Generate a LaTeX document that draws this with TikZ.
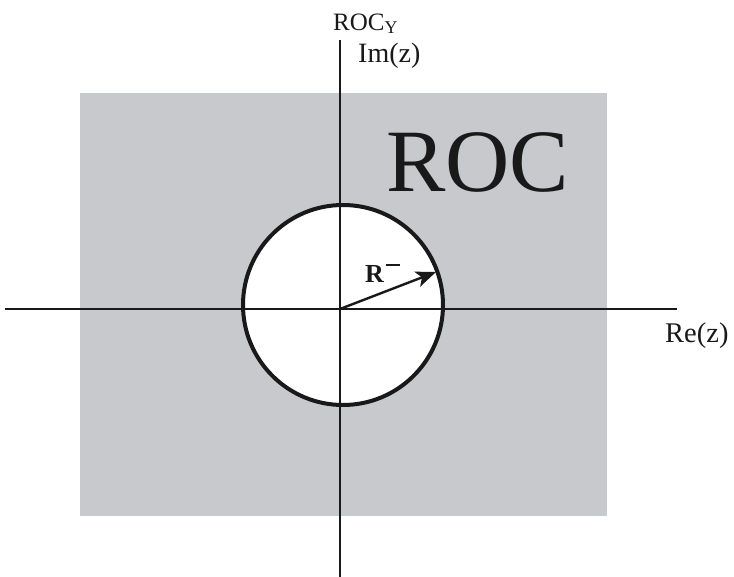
\documentclass[tikz,border=0pt]{standalone}
\usepackage{fontspec}
\setmainfont{Liberation Serif}
\usetikzlibrary{arrows.meta}
\definecolor{rocgray}{RGB}{200,201,204}
\tikzset{
  axisline/.style={line width=2.2pt, draw=black!90},
  rim/.style={line width=4pt, draw=black!90, fill=white},
  radius arrow/.style={line width=2.4pt, draw=black!90, -{Stealth[length=20pt,width=16pt,inset=5pt]}},
  lbl/.style={inner sep=0pt, anchor=base west, text=black!90}
}
\begin{document}
\begin{tikzpicture}[x=1pt,y=-1pt]
\useasboundingbox (0,0) rectangle (734,577);
% shaded region
\fill[rocgray] (80,93) rectangle (607,516);
% circle (hole)
\node[rim, circle, minimum size=200pt, inner sep=0pt] (c) at (343,305) {};
% axes
\coordinate (xl) at (5,309);
\coordinate (xr) at (677,309);
\coordinate (yt) at (340,40);
\coordinate (yb) at (340,577);
\coordinate (o) at (340,309);
\draw[axisline] (xl) -- (xr);
\draw[axisline] (yt) -- (yb);
% radius arrow
\coordinate (tip) at (436,272);
\draw[radius arrow] (o) -- (tip);
% labels
\node[lbl] (roc) at (386,192) {\fontsize{89}{89}\selectfont ROC};
\node[lbl] (rocy) at (333,30.5) {\fontsize{25}{25}\selectfont ROC\raisebox{-3pt}{\fontsize{18}{18}\selectfont Y}};
\node[lbl] (im) at (358,63) {\fontsize{28}{28}\selectfont Im(z)};
\node[lbl] (re) at (665,343) {\fontsize{28.5}{28.5}\selectfont Re(z)};
\node[lbl] (r) at (365,283) {\fontsize{26}{26}\selectfont\bfseries R\hspace{2pt}\raisebox{17pt}{\rule{14pt}{1.6pt}}};
\end{tikzpicture}
\end{document}
